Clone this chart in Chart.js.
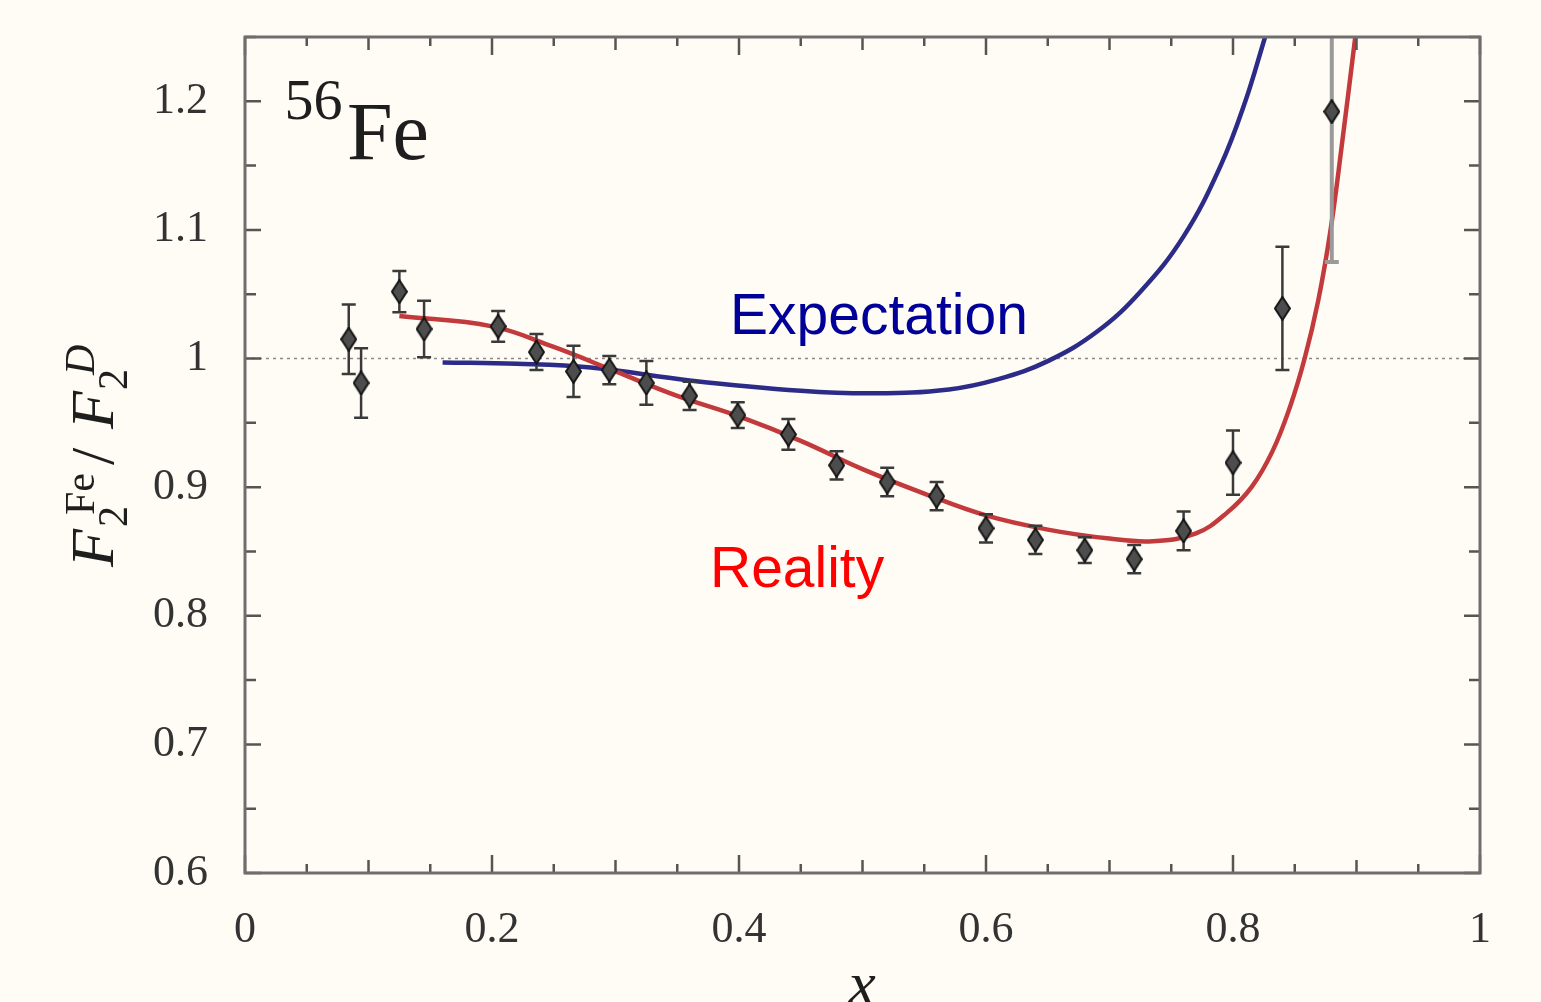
<!DOCTYPE html>
<html>
<head>
<meta charset="utf-8">
<script src="https://cdn.jsdelivr.net/npm/chart.js@4.4.1/dist/chart.umd.min.js"></script>
<style>
  body { margin: 0; background: #fffcf5; }
  #wrap { width: 1541px; height: 1002px; position: relative; }
</style>
</head>
<body>
<div id="wrap"><canvas id="myChart"></canvas></div>
<script>
// measured points (x, F2Fe/F2D) and their error
var xData = [0.084, 0.094, 0.125, 0.145, 0.205, 0.236, 0.266, 0.295, 0.325, 0.360, 0.399, 0.440,
             0.479, 0.520, 0.560, 0.600, 0.640, 0.680, 0.720, 0.760, 0.800, 0.840, 0.880];
var ratioData = [1.015, 0.981, 1.052, 1.023, 1.025, 1.005, 0.990, 0.991, 0.981, 0.971, 0.956, 0.941,
                 0.917, 0.904, 0.893, 0.868, 0.859, 0.851, 0.844, 0.866, 0.919, 1.039, 1.192];
var ratioErr = [0.027, 0.027, 0.016, 0.022, 0.012, 0.014, 0.020, 0.011, 0.017, 0.011, 0.010, 0.012,
                0.011, 0.011, 0.011, 0.011, 0.011, 0.010, 0.011, 0.015, 0.025, 0.048, 0.117];

// "Reality" curve
var realityX = [0.125, 0.2, 0.25, 0.3, 0.35, 0.4, 0.45, 0.5, 0.55, 0.6, 0.65, 0.7, 0.735,
                0.77, 0.795, 0.815, 0.832, 0.846, 0.858, 0.869, 0.879, 0.888, 0.899];
var realityY = [1.033, 1.025, 1.009, 0.990, 0.971, 0.955, 0.936, 0.914, 0.895, 0.878, 0.867, 0.860, 0.858,
                0.864, 0.880, 0.900, 0.928, 0.962, 1.0, 1.045, 1.100, 1.165, 1.25];

// "Expectation" curve
var expectX = [0.16, 0.22, 0.28, 0.36, 0.45, 0.51, 0.57, 0.61, 0.65, 0.69, 0.725, 0.76, 0.79, 0.81, 0.826];
var expectY = [0.997, 0.996, 0.993, 0.983, 0.975, 0.973, 0.976, 0.984, 0.998, 1.021, 1.052, 1.095, 1.150, 1.200, 1.25];

var xTickValues = [0, 0.2, 0.4, 0.6, 0.8, 1];
var xTickLabels = ['0', '0.2', '0.4', '0.6', '0.8', '1'];
var yTickValues = [0.6, 0.7, 0.8, 0.9, 1.0, 1.1, 1.2];
var yTickLabels = ['0.6', '0.7', '0.8', '0.9', '1', '1.1', '1.2'];

var serif = '"Liberation Serif", "Times New Roman", serif';
var sans = '"Liberation Sans", Arial, sans-serif';

function toPoints(xs, ys) {
  return xs.map(function (x, i) { return { x: x, y: ys[i] }; });
}

// elongated diamond marker
var marker = document.createElement('canvas');
marker.width = 17; marker.height = 25;
(function () {
  var m = marker.getContext('2d');
  m.beginPath();
  m.moveTo(8.5, 1); m.lineTo(16, 12.5); m.lineTo(8.5, 24); m.lineTo(1, 12.5); m.closePath();
  m.fillStyle = '#4d4d4d'; m.fill();
  m.lineWidth = 2; m.strokeStyle = '#151515'; m.stroke();
})();

var bgPlugin = {
  id: 'bg',
  beforeDraw: function (chart) {
    var c = chart.ctx;
    c.save();
    c.fillStyle = '#fffcf5';
    c.fillRect(0, 0, chart.width, chart.height);
    c.restore();
  }
};

var errorBars = {
  id: 'errorBars',
  beforeDatasetDraw: function (chart, args) {
    if (args.index !== 0) return;
    var c = chart.ctx, xs = chart.scales.x, ys = chart.scales.y, a = chart.chartArea;
    c.save();
    c.beginPath(); c.rect(a.left, a.top, a.right - a.left, a.bottom - a.top); c.clip();
    for (var i = 0; i < xData.length; i++) {
      var px = xs.getPixelForValue(xData[i]);
      var top = ys.getPixelForValue(ratioData[i] + ratioErr[i]);
      var bot = ys.getPixelForValue(ratioData[i] - ratioErr[i]);
      var last = i === xData.length - 1;
      c.strokeStyle = last ? '#9a9a9a' : '#3a3a3a';
      c.lineWidth = last ? 4 : 2.5;
      c.beginPath();
      c.moveTo(px, top); c.lineTo(px, bot);
      c.moveTo(px - 7, top); c.lineTo(px + 7, top);
      c.moveTo(px - 7, bot); c.lineTo(px + 7, bot);
      c.stroke();
    }
    c.restore();
  }
};

var framePlugin = {
  id: 'frame',
  afterDraw: function (chart) {
    var c = chart.ctx, a = chart.chartArea, xs = chart.scales.x, ys = chart.scales.y;
    c.save();
    c.strokeStyle = '#555';
    c.lineWidth = 2.5;
    c.beginPath();
    var v, p, len;
    for (v = 0; v <= 20; v++) {
      p = xs.getPixelForValue(v * 0.05);
      len = v % 4 === 0 ? 18 : (v % 2 === 0 ? 13 : 9);
      c.moveTo(p, a.bottom); c.lineTo(p, a.bottom - len);
      c.moveTo(p, a.top); c.lineTo(p, a.top + len);
    }
    for (v = 12; v <= 25; v++) {
      p = ys.getPixelForValue(v * 0.05);
      len = v % 2 === 0 ? 16 : 11;
      c.moveTo(a.left, p); c.lineTo(a.left + len, p);
      c.moveTo(a.right, p); c.lineTo(a.right - len, p);
    }
    c.stroke();
    c.strokeStyle = '#6e6e6e';
    c.lineWidth = 3;
    c.strokeRect(a.left, a.top, a.right - a.left, a.bottom - a.top);

    // 56Fe
    c.fillStyle = '#1e1e1e';
    c.textBaseline = 'alphabetic';
    c.textAlign = 'left';
    c.font = '58px ' + serif;
    c.fillText('56', xs.getPixelForValue(0.032), ys.getPixelForValue(1.186));
    c.font = '82px ' + serif;
    c.fillText('Fe', xs.getPixelForValue(0.0826), ys.getPixelForValue(1.155));

    // curve labels
    c.font = '57px ' + sans;
    c.fillStyle = '#000099';
    c.fillText('Expectation', xs.getPixelForValue(0.3927), ys.getPixelForValue(1.0187));
    c.fillStyle = '#ff0000';
    c.fillText('Reality', xs.getPixelForValue(0.3765), ys.getPixelForValue(0.822));

    // x axis title
    c.fillStyle = '#1e1e1e';
    c.textAlign = 'center';
    c.font = 'italic 62px ' + serif;
    c.fillText('x', 862, 1004);

    // y axis title  F2^Fe / F2^D
    c.translate(113, 567);
    c.rotate(-Math.PI / 2);
    c.textAlign = 'left';
    c.font = 'italic 62px ' + serif;
    c.fillText('F', 0, 0);
    c.font = '42px ' + serif;
    c.fillText('Fe', 52, -19);
    c.fillText('2', 40, 14);
    c.font = '62px ' + serif;
    c.fillText('/', 102, 0);
    c.font = 'italic 62px ' + serif;
    c.fillText('F', 138, 0);
    c.font = 'italic 42px ' + serif;
    c.fillText('D', 192, -19);
    c.font = '42px ' + serif;
    c.fillText('2', 177, 14);
    c.restore();
  }
};

var ctx = document.getElementById('myChart').getContext('2d');

var myChart = new Chart(ctx, {
  type: 'scatter',
  data: {
    datasets: [{
      label: 'data',
      data: toPoints(xData, ratioData),
      pointStyle: marker,
      pointRadius: 9,
      showLine: false
    },
    {
      label: 'Reality',
      data: toPoints(realityX, realityY),
      showLine: true,
      borderColor: '#c33a3c',
      borderWidth: 4.5,
      pointRadius: 0,
      tension: 0.4
    },
    {
      label: 'Expectation',
      data: toPoints(expectX, expectY),
      showLine: true,
      borderColor: '#2c2c88',
      borderWidth: 4.5,
      pointRadius: 0,
      tension: 0.4
    },
    {
      label: 'one',
      data: [{ x: 0, y: 1 }, { x: 1, y: 1 }],
      showLine: true,
      borderColor: '#8a8a8a',
      borderWidth: 1.5,
      borderDash: [3, 4],
      pointRadius: 0
    }]
  },
  options: {
    responsive: true,
    maintainAspectRatio: false,
    animation: false,
    layout: { padding: { top: 37, right: 61, left: 0, bottom: 0 } },
    plugins: {
      legend: { display: false },
      tooltip: { enabled: false }
    },
    scales: {
      x: {
        type: 'linear',
        min: 0,
        max: 1,
        grid: { display: false, drawTicks: false },
        border: { display: false },
        afterBuildTicks: function (scale) {
          scale.ticks = xTickValues.map(function (v) { return { value: v }; });
        },
        afterFit: function (scale) {
          scale.height = 129;
          scale.paddingLeft = 0; scale.paddingRight = 0;
        },
        ticks: {
          autoSkip: false,
          maxRotation: 0,
          padding: 31,
          color: '#333',
          font: { family: serif, size: 44 },
          callback: function (v, i) { return xTickLabels[i]; }
        }
      },
      y: {
        min: 0.6,
        max: 1.25,
        grid: { display: false, drawTicks: false },
        border: { display: false },
        afterBuildTicks: function (scale) {
          scale.ticks = yTickValues.map(function (v) { return { value: v }; });
        },
        afterFit: function (scale) {
          scale.width = 245;
          scale.paddingTop = 0; scale.paddingBottom = 0;
        },
        ticks: {
          autoSkip: false,
          padding: 37,
          color: '#333',
          font: { family: serif, size: 44 },
          callback: function (v, i) { return yTickLabels[i]; }
        }
      }
    }
  },
  plugins: [bgPlugin, errorBars, framePlugin]
});
</script>
</body>
</html>
